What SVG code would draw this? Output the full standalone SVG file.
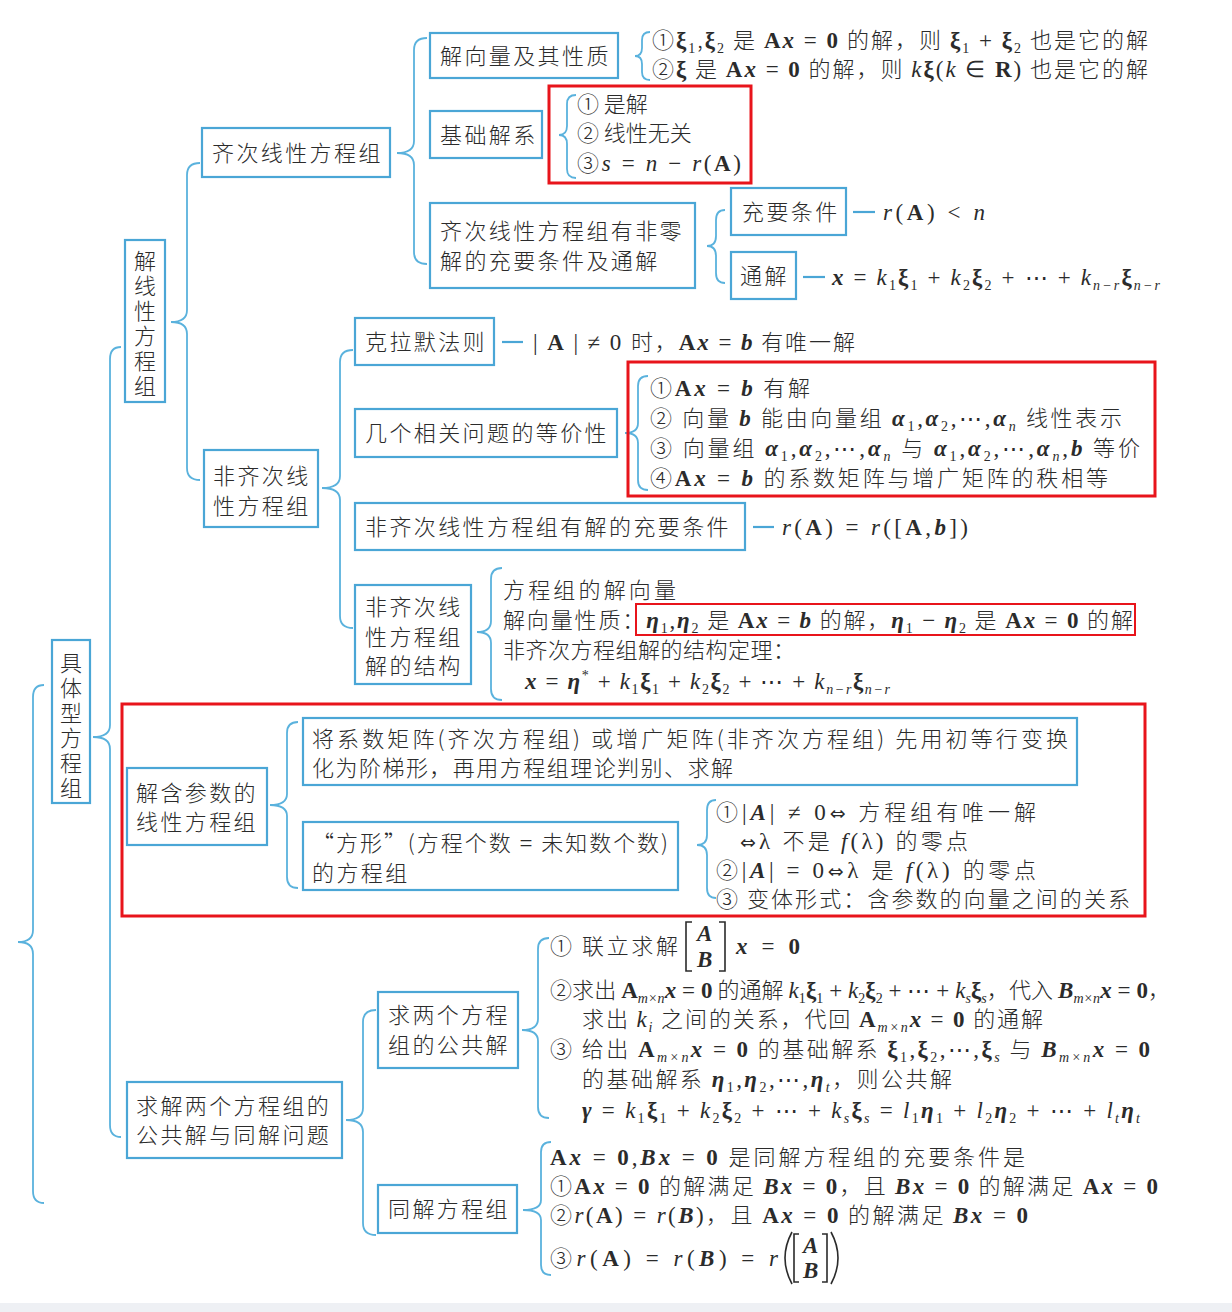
<svg xmlns="http://www.w3.org/2000/svg" width="1232" height="1312" viewBox="0 0 1232 1312">
<style>
.bg{fill:#fff}
.box{fill:#fff;stroke:#4aa6d6;stroke-width:2.2}
.br{fill:none;stroke:#5ab2dd;stroke-width:1.8}
.cn{stroke:#4aa6d6;stroke-width:2.2}
.red{fill:none;stroke:#e8141b;stroke-width:3}
.red2{fill:none;stroke:#e8141b;stroke-width:2}
.mat{fill:none;stroke:#2b2b2b;stroke-width:1.6}
.z{font-family:"Noto Sans CJK SC","Noto Sans",sans-serif;font-size:22px;font-weight:300;fill:#2b2b2b}
.bx{letter-spacing:2.4px}
.c{text-anchor:middle}
.m{font-family:"Liberation Serif",serif;font-size:23px;font-weight:normal}
.i{font-style:italic}
.b{font-weight:bold}
.s{font-family:"Liberation Serif",serif;font-size:14px;font-weight:normal}
.ar{font-family:"DejaVu Sans",sans-serif;font-size:19px;font-weight:normal}
</style>
<rect class="bg" x="0" y="0" width="1232" height="1312"/>
<rect x="0" y="1303" width="1232" height="9" fill="#eef0f4"/>

<g id="connectors">
<path class="br" d="M44 685 Q33 685 33 697 L33 930 Q33 942 18 942 Q33 942 33 954 L33 1191 Q33 1203 44 1203"/>
<path class="br" d="M121 347 Q110 347 110 359 L110 725 Q110 737 93 737 Q110 737 110 749 L110 1125 Q110 1137 121 1137"/>
<path class="br" d="M200 163 Q187 163 187 175 L187 310 Q187 322 171 322 Q187 322 187 334 L187 468 Q187 480 200 480"/>
<path class="br" d="M427 38 Q414 38 414 50 L414 141 Q414 153 397 153 Q414 153 414 165 L414 252 Q414 264 427 264"/>
<path class="br" d="M353 350 Q340 350 340 362 L340 476 Q340 488 322 488 Q340 488 340 500 L340 616 Q340 628 353 628"/>
<path class="br" d="M648 376 Q638 376 638 386 L638 423 Q638 433 625 433 Q638 433 638 443 L638 480 Q638 490 648 490"/>
<path class="br" d="M502 568 Q491 568 491 579 L491 621 Q491 632 477 632 Q491 632 491 643 L491 689 Q491 700 502 700"/>
<path class="br" d="M725 210 Q716 210 716 220 L716 236 Q716 246 707 246 Q716 246 716 256 L716 273 Q716 283 725 283"/>
<path class="br" d="M650 32 Q642 32 642 40 L642 48 Q642 56 635 56 Q642 56 642 64 L642 72 Q642 80 650 80"/>
<path class="br" d="M576 95 Q567 95 567 104 L567 126 Q567 135 559 135 Q567 135 567 144 L567 169 Q567 178 576 178"/>
<path class="br" d="M298 722 Q287 722 287 733 L287 794 Q287 805 270 805 Q287 805 287 816 L287 877 Q287 888 298 888"/>
<path class="br" d="M716 800 Q707 800 707 810 L707 835 Q707 845 697 845 Q707 845 707 855 L707 888 Q707 898 716 898"/>
<path class="br" d="M376 1010 Q363 1010 363 1022 L363 1108 Q363 1120 346 1120 Q363 1120 363 1132 L363 1223 Q363 1235 376 1235"/>
<path class="br" d="M549 938 Q538 938 538 949 L538 1019 Q538 1030 522 1030 Q538 1030 538 1041 L538 1107 Q538 1118 549 1118"/>
<path class="br" d="M551 1142 Q541 1142 541 1152 L541 1200 Q541 1210 523 1210 Q541 1210 541 1220 L541 1265 Q541 1275 551 1275"/>
<line class="cn" x1="853" y1="212" x2="875" y2="212"/>
<line class="cn" x1="803" y1="277" x2="825" y2="277"/>
<line class="cn" x1="502" y1="342" x2="523" y2="342"/>
<line class="cn" x1="753" y1="527" x2="774" y2="527"/>
</g>

<g id="root">
<rect class="box" x="52" y="640" width="38" height="163"/>
<text class="z c" x="71"><tspan x="71" y="671">具</tspan><tspan x="71" y="696">体</tspan><tspan x="71" y="721">型</tspan><tspan x="71" y="746">方</tspan><tspan x="71" y="771">程</tspan><tspan x="71" y="796">组</tspan></text>
</g>

<g id="n-jiexianxing">
<rect class="box" x="125" y="240" width="40" height="162"/>
<text class="z c" x="145"><tspan x="145" y="269">解</tspan><tspan x="145" y="294">线</tspan><tspan x="145" y="319">性</tspan><tspan x="145" y="344">方</tspan><tspan x="145" y="369">程</tspan><tspan x="145" y="394">组</tspan></text>
</g>

<g id="n-qici">
<rect class="box" x="202" y="128" width="188" height="49"/>
<text class="z bx" x="212" y="161">齐次线性方程组</text>
</g>

<g id="n-jiexiangliang">
<rect class="box" x="430" y="33" width="188" height="45"/>
<text class="z bx" x="440" y="64">解向量及其性质</text>
<text class="z" x="652" y="48" textLength="496" lengthAdjust="spacing">①<tspan class="m b">ξ</tspan><tspan class="s" dy="5">1</tspan><tspan dy="-5">,</tspan><tspan class="m b">ξ</tspan><tspan class="s" dy="5">2</tspan><tspan dy="-5"> 是 </tspan><tspan class="m b">A</tspan><tspan class="m b i">x</tspan><tspan class="m"> = </tspan><tspan class="m b">0</tspan> 的解，则 <tspan class="m b">ξ</tspan><tspan class="s" dy="5">1</tspan><tspan class="m" dy="-5"> + </tspan><tspan class="m b">ξ</tspan><tspan class="s" dy="5">2</tspan><tspan dy="-5"> 也是它的解</tspan></text>
<text class="z" x="652" y="77" textLength="496" lengthAdjust="spacing">②<tspan class="m b">ξ</tspan> 是 <tspan class="m b">A</tspan><tspan class="m b i">x</tspan><tspan class="m"> = </tspan><tspan class="m b">0</tspan> 的解，则 <tspan class="m i">k</tspan><tspan class="m b">ξ</tspan><tspan class="m">(</tspan><tspan class="m i">k</tspan><tspan class="m"> ∈ </tspan><tspan class="m b">R</tspan><tspan class="m">)</tspan> 也是它的解</text>
</g>

<g id="n-jichu">
<rect class="box" x="430" y="111" width="112" height="47"/>
<text class="z bx" x="440" y="143">基础解系</text>
<text class="z" x="577" y="112">① 是解</text>
<text class="z" x="577" y="141">② 线性无关</text>
<text class="z" x="577" y="171" textLength="164" lengthAdjust="spacing">③<tspan class="m i">s</tspan><tspan class="m"> = </tspan><tspan class="m i">n</tspan><tspan class="m"> − </tspan><tspan class="m i">r</tspan><tspan class="m">(</tspan><tspan class="m b">A</tspan><tspan class="m">)</tspan></text>
</g>

<g id="n-feiling">
<rect class="box" x="430" y="203" width="265" height="85"/>
<text class="z bx" x="440" y="239">齐次线性方程组有非零</text>
<text class="z bx" x="440" y="269">解的充要条件及通解</text>
</g>

<g id="n-chongyao">
<rect class="box" x="731" y="188" width="115" height="47"/>
<text class="z bx" x="742" y="220">充要条件</text>
<text class="z" x="883" y="220" textLength="102" lengthAdjust="spacing"><tspan class="m i">r</tspan><tspan class="m">(</tspan><tspan class="m b">A</tspan><tspan class="m">) &lt; </tspan><tspan class="m i">n</tspan></text>
</g>

<g id="n-tongjie">
<rect class="box" x="731" y="252" width="65" height="47"/>
<text class="z bx" x="740" y="284">通解</text>
<text class="z" x="832" y="285" textLength="328" lengthAdjust="spacing"><tspan class="m b i">x</tspan><tspan class="m"> = </tspan><tspan class="m i">k</tspan><tspan class="s" dy="5">1</tspan><tspan class="m b" dy="-5">ξ</tspan><tspan class="s" dy="5">1</tspan><tspan class="m" dy="-5"> + </tspan><tspan class="m i">k</tspan><tspan class="s" dy="5">2</tspan><tspan class="m b" dy="-5">ξ</tspan><tspan class="s" dy="5">2</tspan><tspan class="m" dy="-5"> + ⋯ + </tspan><tspan class="m i">k</tspan><tspan class="s i" dy="5">n−r</tspan><tspan class="m b" dy="-5">ξ</tspan><tspan class="s i" dy="5">n−r</tspan></text>
</g>

<g id="n-feiqici">
<rect class="box" x="204" y="450" width="114" height="77"/>
<text class="z bx" x="213" y="484">非齐次线</text>
<text class="z bx" x="213" y="514">性方程组</text>
</g>

<g id="n-kelamo">
<rect class="box" x="355" y="318" width="139" height="47"/>
<text class="z bx" x="365" y="350">克拉默法则</text>
<text class="z" x="533" y="350" textLength="322" lengthAdjust="spacing"><tspan class="m">| </tspan><tspan class="m b">A</tspan><tspan class="m"> | ≠ 0 </tspan>时，<tspan class="m b">A</tspan><tspan class="m b i">x</tspan><tspan class="m"> = </tspan><tspan class="m b i">b</tspan> 有唯一解</text>
</g>

<g id="n-dengjia">
<rect class="box" x="355" y="409" width="262" height="48"/>
<text class="z bx" x="365" y="441">几个相关问题的等价性</text>
<text class="z" x="650" y="396" textLength="160" lengthAdjust="spacing">①<tspan class="m b">A</tspan><tspan class="m b i">x</tspan><tspan class="m"> = </tspan><tspan class="m b i">b</tspan> 有解</text>
<text class="z" x="650" y="426" textLength="472" lengthAdjust="spacing">② 向量 <tspan class="m b i">b</tspan> 能由向量组 <tspan class="m b i">α</tspan><tspan class="s" dy="5">1</tspan><tspan class="m" dy="-5">,</tspan><tspan class="m b i">α</tspan><tspan class="s" dy="5">2</tspan><tspan class="m" dy="-5">,⋯,</tspan><tspan class="m b i">α</tspan><tspan class="s i" dy="5">n</tspan><tspan dy="-5"> 线性表示</tspan></text>
<text class="z" x="650" y="456" textLength="490" lengthAdjust="spacing">③ 向量组 <tspan class="m b i">α</tspan><tspan class="s" dy="5">1</tspan><tspan class="m" dy="-5">,</tspan><tspan class="m b i">α</tspan><tspan class="s" dy="5">2</tspan><tspan class="m" dy="-5">,⋯,</tspan><tspan class="m b i">α</tspan><tspan class="s i" dy="5">n</tspan><tspan dy="-5"> 与 </tspan><tspan class="m b i">α</tspan><tspan class="s" dy="5">1</tspan><tspan class="m" dy="-5">,</tspan><tspan class="m b i">α</tspan><tspan class="s" dy="5">2</tspan><tspan class="m" dy="-5">,⋯,</tspan><tspan class="m b i">α</tspan><tspan class="s i" dy="5">n</tspan><tspan class="m" dy="-5">,</tspan><tspan class="m b i">b</tspan> 等价</text>
<text class="z" x="650" y="486" textLength="458" lengthAdjust="spacing">④<tspan class="m b">A</tspan><tspan class="m b i">x</tspan><tspan class="m"> = </tspan><tspan class="m b i">b</tspan> 的系数矩阵与增广矩阵的秩相等</text>
</g>

<g id="n-youjie">
<rect class="box" x="355" y="503" width="390" height="47"/>
<text class="z bx" x="365" y="535">非齐次线性方程组有解的充要条件</text>
<text class="z" x="782" y="535" textLength="186" lengthAdjust="spacing"><tspan class="m i">r</tspan><tspan class="m">(</tspan><tspan class="m b">A</tspan><tspan class="m">) = </tspan><tspan class="m i">r</tspan><tspan class="m">([</tspan><tspan class="m b">A</tspan><tspan class="m">,</tspan><tspan class="m b i">b</tspan><tspan class="m">])</tspan></text>
</g>

<g id="n-jiegou">
<rect class="box" x="355" y="585" width="116" height="99"/>
<text class="z bx" x="365" y="615">非齐次线</text>
<text class="z bx" x="365" y="645">性方程组</text>
<text class="z bx" x="365" y="674">解的结构</text>
<text class="z" x="503" y="598" textLength="173" lengthAdjust="spacing">方程组的解向量</text>
<text class="z" x="503" y="628" textLength="630" lengthAdjust="spacing">解向量性质：<tspan class="m b i">η</tspan><tspan class="s" dy="5">1</tspan><tspan class="m" dy="-5">,</tspan><tspan class="m b i">η</tspan><tspan class="s" dy="5">2</tspan><tspan dy="-5"> 是 </tspan><tspan class="m b">A</tspan><tspan class="m b i">x</tspan><tspan class="m"> = </tspan><tspan class="m b i">b</tspan> 的解，<tspan class="m b i">η</tspan><tspan class="s" dy="5">1</tspan><tspan class="m" dy="-5"> − </tspan><tspan class="m b i">η</tspan><tspan class="s" dy="5">2</tspan><tspan dy="-5"> 是 </tspan><tspan class="m b">A</tspan><tspan class="m b i">x</tspan><tspan class="m"> = </tspan><tspan class="m b">0</tspan> 的解</text>
<text class="z" x="503" y="658" textLength="292" lengthAdjust="spacing">非齐次方程组解的结构定理：</text>
<text class="z" x="525" y="689" textLength="365" lengthAdjust="spacing"><tspan class="m b i">x</tspan><tspan class="m"> = </tspan><tspan class="m b i">η</tspan><tspan class="s" dy="-9">*</tspan><tspan class="m" dy="9"> + </tspan><tspan class="m i">k</tspan><tspan class="s" dy="5">1</tspan><tspan class="m b" dy="-5">ξ</tspan><tspan class="s" dy="5">1</tspan><tspan class="m" dy="-5"> + </tspan><tspan class="m i">k</tspan><tspan class="s" dy="5">2</tspan><tspan class="m b" dy="-5">ξ</tspan><tspan class="s" dy="5">2</tspan><tspan class="m" dy="-5"> + ⋯ + </tspan><tspan class="m i">k</tspan><tspan class="s i" dy="5">n−r</tspan><tspan class="m b" dy="-5">ξ</tspan><tspan class="s i" dy="5">n−r</tspan></text>
</g>

<g id="n-hancanshu">
<rect class="box" x="127" y="768" width="140" height="77"/>
<text class="z bx" x="136" y="801">解含参数的</text>
<text class="z bx" x="136" y="830">线性方程组</text>
</g>

<g id="n-jiang">
<rect class="box" x="303" y="718" width="774" height="67"/>
<text class="z" x="312" y="747" textLength="756" lengthAdjust="spacing">将系数矩阵(齐次方程组) 或增广矩阵(非齐次方程组) 先用初等行变换</text>
<text class="z" x="312" y="776" textLength="421" lengthAdjust="spacing">化为阶梯形，再用方程组理论判别、求解</text>
</g>

<g id="n-fangxing">
<rect class="box" x="303" y="822" width="375" height="68"/>
<text class="z" x="312" y="851" textLength="356" lengthAdjust="spacing">“方形”(方程个数 <tspan class="m">=</tspan> 未知数个数)</text>
<text class="z bx" x="312" y="881">的方程组</text>
<text class="z" x="716" y="820" textLength="320" lengthAdjust="spacing">①<tspan class="m">|</tspan><tspan class="m b i">A</tspan><tspan class="m">| ≠ 0</tspan><tspan class="ar">⇔</tspan> 方程组有唯一解</text>
<text class="z" x="740" y="849" textLength="228" lengthAdjust="spacing"><tspan class="ar">⇔</tspan><tspan class="m">λ </tspan>不是 <tspan class="m i">f</tspan><tspan class="m">(λ) </tspan>的零点</text>
<text class="z" x="716" y="878" textLength="320" lengthAdjust="spacing">②<tspan class="m">|</tspan><tspan class="m b i">A</tspan><tspan class="m">| = 0</tspan><tspan class="ar">⇔</tspan><tspan class="m">λ </tspan>是 <tspan class="m i">f</tspan><tspan class="m">(λ) </tspan>的零点</text>
<text class="z" x="716" y="907" textLength="414" lengthAdjust="spacing">③ 变体形式：含参数的向量之间的关系</text>
</g>

<g id="n-qiujie">
<rect class="box" x="127" y="1082" width="215" height="76"/>
<text class="z bx" x="136" y="1114">求解两个方程组的</text>
<text class="z bx" x="136" y="1143">公共解与同解问题</text>
</g>

<g id="n-gonggong">
<rect class="box" x="378" y="992" width="140" height="76"/>
<text class="z bx" x="388" y="1023">求两个方程</text>
<text class="z bx" x="388" y="1053">组的公共解</text>
<text class="z" x="550" y="954" textLength="128" lengthAdjust="spacing">① 联立求解</text>
<path class="mat" d="M692 922 L686 922 L686 971 L692 971 M719 922 L725 922 L725 971 L719 971"/>
<text class="m b i" x="697" y="941" fill="#2b2b2b" font-size="21">A</text>
<text class="m b i" x="697" y="967" fill="#2b2b2b" font-size="21">B</text>
<text class="z" x="736" y="954" textLength="64" lengthAdjust="spacing"><tspan class="m b i">x</tspan><tspan class="m"> = </tspan><tspan class="m b">0</tspan></text>
<text class="z" x="550" y="998" textLength="620" lengthAdjust="spacing">②求出 <tspan class="m b">A</tspan><tspan class="s i" dy="5">m×n</tspan><tspan class="m b i" dy="-5">x</tspan><tspan class="m"> = </tspan><tspan class="m b">0</tspan> 的通解 <tspan class="m i">k</tspan><tspan class="s" dy="5">1</tspan><tspan class="m b" dy="-5">ξ</tspan><tspan class="s" dy="5">1</tspan><tspan class="m" dy="-5"> + </tspan><tspan class="m i">k</tspan><tspan class="s" dy="5">2</tspan><tspan class="m b" dy="-5">ξ</tspan><tspan class="s" dy="5">2</tspan><tspan class="m" dy="-5"> + ⋯ + </tspan><tspan class="m i">k</tspan><tspan class="s i" dy="5">s</tspan><tspan class="m b" dy="-5">ξ</tspan><tspan class="s i" dy="5">s</tspan><tspan dy="-5">，代入 </tspan><tspan class="m b i">B</tspan><tspan class="s i" dy="5">m×n</tspan><tspan class="m b i" dy="-5">x</tspan><tspan class="m"> = </tspan><tspan class="m b">0</tspan>，</text>
<text class="z" x="582" y="1027" textLength="461" lengthAdjust="spacing">求出 <tspan class="m i">k</tspan><tspan class="s i" dy="5">i</tspan><tspan dy="-5"> 之间的关系，代回 </tspan><tspan class="m b">A</tspan><tspan class="s i" dy="5">m×n</tspan><tspan class="m b i" dy="-5">x</tspan><tspan class="m"> = </tspan><tspan class="m b">0</tspan> 的通解</text>
<text class="z" x="550" y="1057" textLength="600" lengthAdjust="spacing">③ 给出 <tspan class="m b">A</tspan><tspan class="s i" dy="5">m×n</tspan><tspan class="m b i" dy="-5">x</tspan><tspan class="m"> = </tspan><tspan class="m b">0</tspan> 的基础解系 <tspan class="m b">ξ</tspan><tspan class="s" dy="5">1</tspan><tspan class="m" dy="-5">,</tspan><tspan class="m b">ξ</tspan><tspan class="s" dy="5">2</tspan><tspan class="m" dy="-5">,⋯,</tspan><tspan class="m b">ξ</tspan><tspan class="s i" dy="5">s</tspan><tspan dy="-5"> 与 </tspan><tspan class="m b i">B</tspan><tspan class="s i" dy="5">m×n</tspan><tspan class="m b i" dy="-5">x</tspan><tspan class="m"> = </tspan><tspan class="m b">0</tspan></text>
<text class="z" x="582" y="1087" textLength="370" lengthAdjust="spacing">的基础解系 <tspan class="m b i">η</tspan><tspan class="s" dy="5">1</tspan><tspan class="m" dy="-5">,</tspan><tspan class="m b i">η</tspan><tspan class="s" dy="5">2</tspan><tspan class="m" dy="-5">,⋯,</tspan><tspan class="m b i">η</tspan><tspan class="s i" dy="5">t</tspan><tspan dy="-5">，则公共解</tspan></text>
<text class="z" x="582" y="1118" textLength="558" lengthAdjust="spacing"><tspan class="m b i">γ</tspan><tspan class="m"> = </tspan><tspan class="m i">k</tspan><tspan class="s" dy="5">1</tspan><tspan class="m b" dy="-5">ξ</tspan><tspan class="s" dy="5">1</tspan><tspan class="m" dy="-5"> + </tspan><tspan class="m i">k</tspan><tspan class="s" dy="5">2</tspan><tspan class="m b" dy="-5">ξ</tspan><tspan class="s" dy="5">2</tspan><tspan class="m" dy="-5"> + ⋯ + </tspan><tspan class="m i">k</tspan><tspan class="s i" dy="5">s</tspan><tspan class="m b" dy="-5">ξ</tspan><tspan class="s i" dy="5">s</tspan><tspan class="m" dy="-5"> = </tspan><tspan class="m i">l</tspan><tspan class="s" dy="5">1</tspan><tspan class="m b i" dy="-5">η</tspan><tspan class="s" dy="5">1</tspan><tspan class="m" dy="-5"> + </tspan><tspan class="m i">l</tspan><tspan class="s" dy="5">2</tspan><tspan class="m b i" dy="-5">η</tspan><tspan class="s" dy="5">2</tspan><tspan class="m" dy="-5"> + ⋯ + </tspan><tspan class="m i">l</tspan><tspan class="s i" dy="5">t</tspan><tspan class="m b i" dy="-5">η</tspan><tspan class="s i" dy="5">t</tspan></text>
</g>

<g id="n-tongjiefc">
<rect class="box" x="378" y="1185" width="139" height="48"/>
<text class="z bx" x="388" y="1217">同解方程组</text>
<text class="z" x="550" y="1165" textLength="475" lengthAdjust="spacing"><tspan class="m b">A</tspan><tspan class="m b i">x</tspan><tspan class="m"> = </tspan><tspan class="m b">0</tspan><tspan class="m">,</tspan><tspan class="m b i">B</tspan><tspan class="m b i">x</tspan><tspan class="m"> = </tspan><tspan class="m b">0</tspan> 是同解方程组的充要条件是</text>
<text class="z" x="550" y="1194" textLength="608" lengthAdjust="spacing">①<tspan class="m b">A</tspan><tspan class="m b i">x</tspan><tspan class="m"> = </tspan><tspan class="m b">0</tspan> 的解满足 <tspan class="m b i">B</tspan><tspan class="m b i">x</tspan><tspan class="m"> = </tspan><tspan class="m b">0</tspan>，且 <tspan class="m b i">B</tspan><tspan class="m b i">x</tspan><tspan class="m"> = </tspan><tspan class="m b">0</tspan> 的解满足 <tspan class="m b">A</tspan><tspan class="m b i">x</tspan><tspan class="m"> = </tspan><tspan class="m b">0</tspan></text>
<text class="z" x="550" y="1223" textLength="478" lengthAdjust="spacing">②<tspan class="m i">r</tspan><tspan class="m">(</tspan><tspan class="m b">A</tspan><tspan class="m">) = </tspan><tspan class="m i">r</tspan><tspan class="m">(</tspan><tspan class="m b i">B</tspan><tspan class="m">)</tspan>，且 <tspan class="m b">A</tspan><tspan class="m b i">x</tspan><tspan class="m"> = </tspan><tspan class="m b">0</tspan> 的解满足 <tspan class="m b i">B</tspan><tspan class="m b i">x</tspan><tspan class="m"> = </tspan><tspan class="m b">0</tspan></text>
<text class="z" x="550" y="1266" textLength="228" lengthAdjust="spacing">③<tspan class="m i">r</tspan><tspan class="m">(</tspan><tspan class="m b">A</tspan><tspan class="m">) = </tspan><tspan class="m i">r</tspan><tspan class="m">(</tspan><tspan class="m b i">B</tspan><tspan class="m">) = </tspan><tspan class="m i">r</tspan></text>
<path class="mat" d="M792 1232 Q778 1258 792 1284 M799 1234 L794 1234 L794 1282 L799 1282 M822 1234 L827 1234 L827 1282 L822 1282 M831 1232 Q845 1258 831 1284"/>
<text class="m b i" x="803" y="1253" fill="#2b2b2b" font-size="21">A</text>
<text class="m b i" x="803" y="1278" fill="#2b2b2b" font-size="21">B</text>
</g>

<g id="highlights">
<rect class="red" x="549" y="86" width="202" height="97"/>
<rect class="red" x="628" y="362" width="527" height="134"/>
<rect class="red2" x="636" y="604" width="499" height="31"/>
<rect class="red" x="122" y="704" width="1023" height="212"/>
</g>
</svg>
